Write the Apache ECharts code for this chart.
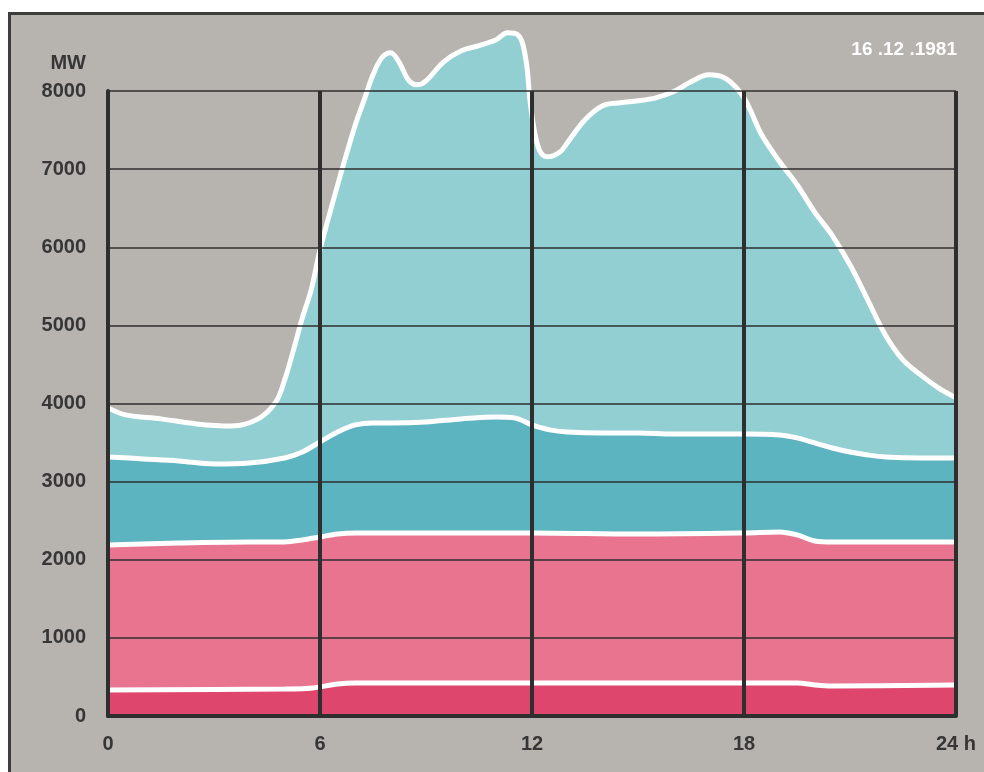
<!DOCTYPE html>
<html>
<head>
<meta charset="utf-8">
<script src="https://cdn.jsdelivr.net/npm/echarts@6/dist/echarts.min.js"></script>
<style>
html,body{margin:0;padding:0;background:#fff;}
#c{width:984px;height:772px;}
</style>
</head>
<body>
<div id="c"></div>
<script>
// Hours of day (x) and load in MW (y)
const totalHours = [0,0.5,1.5,2.5,3.5,4.25,4.75,5,5.25,5.5,5.75,6,6.5,7,7.25,7.5,7.75,8,8.25,8.5,8.75,9,9.5,10,10.5,11,11.3,11.5,11.7,11.85,11.95,12.1,12.25,12.45,12.8,13,13.5,14,14.5,15,15.5,16,16.5,17,17.5,18,18.5,19,19.5,20,20.5,21,21.5,22,22.5,23,23.5,24];
const totalMW    = [3944,3854,3803,3739,3713,3803,4020,4302,4686,5096,5454,5967,6799,7567,7887,8207,8425,8489,8361,8143,8079,8130,8374,8515,8580,8660,8745,8740,8650,8330,7849,7414,7209,7157,7222,7337,7631,7810,7849,7874,7913,7990,8118,8207,8156,7913,7439,7100,6800,6450,6150,5775,5327,4878,4558,4366,4200,4072];

const midHours = [0,1,2,3,4,5,5.5,6,6.5,7,7.5,8,9,10,11,11.5,12,12.5,13,14,15,16,17,18,19,19.5,20,20.5,21,21.5,22,23,24];
const midMW    = [3316,3291,3265,3227,3239,3303,3380,3508,3636,3726,3752,3752,3764,3803,3828,3816,3726,3662,3636,3624,3624,3611,3611,3611,3598,3560,3495,3431,3380,3342,3316,3303,3303];

const pinkHours = [0,2,4,5,5.5,6,6.5,7,12,15,18,19,19.5,20,20.5,24];
const pinkMW    = [2189,2215,2228,2228,2254,2292,2330,2343,2343,2330,2343,2356,2318,2241,2228,2228];

const baseHours = [0,5,5.8,6.5,7,12,18,19.5,20,20.5,24];
const baseMW    = [333,346,359,410,423,423,423,423,397,384,397];

const xTicks = [0,6,12,18,24];
const yTicks = [0,1000,2000,3000,4000,5000,6000,7000,8000];
const dateText = '16 .12 .1981';

function pairs(h, v){ return h.map((x,i)=>[x, v[i]]); }

const chart = echarts.init(document.getElementById('c'), null, {renderer:'canvas'});
const font = '"Liberation Sans", Arial, sans-serif';
const txt = '#363636';

function areaSeries(name, h, v, color, z){
  return {
    name: name, type:'line', data: pairs(h, v), smooth: 0.35,
    symbol:'none', clip:false, z: z,
    lineStyle:{color:'#ffffff', width:5},
    areaStyle:{color: color, opacity:1, origin:'start'}
  };
}

chart.setOption({
  backgroundColor:'#ffffff',
  animation:false,
  graphic:[
    {type:'rect', z:-10, silent:true,
     shape:{x:9.5, y:13.5, width:1000, height:800},
     style:{fill:'#b7b3af', stroke:'#3d3d3d', lineWidth:3}},
    {type:'text', z:50, right:27, top:40,
     style:{text: dateText, fill:'#ffffff', font:'bold 19px ' + font}}
  ],
  grid:{left:108, right:28, top:91, bottom:56, show:false},
  xAxis:{
    type:'value', min:0, max:24, interval:6, z:20,
    axisLine:{show:true, onZero:false, lineStyle:{color:'#2e2e2e', width:4}},
    axisTick:{show:false},
    splitLine:{show:true, lineStyle:{color:'#2e2e2e', width:4}},
    axisLabel:{color:txt, fontFamily:font, fontWeight:'bold', fontSize:20, margin:18,
      showMinLabel:true, showMaxLabel:true,
      formatter: v => (v === 24 ? '24 h' : String(v))}
  },
  yAxis:{
    type:'value', min:0, max:8000, interval:1000, z:20,
    name:'MW', nameLocation:'end', nameGap:18,
    nameTextStyle:{color:txt, fontFamily:font, fontWeight:'bold', fontSize:20, align:'right', padding:[0,22,0,0]},
    axisLine:{show:true, lineStyle:{color:'#2e2e2e', width:4}},
    axisTick:{show:false},
    splitLine:{show:true, lineStyle:{color:'#2e2e2e', width:1.5}},
    axisLabel:{color:txt, fontFamily:font, fontWeight:'bold', fontSize:20, margin:22,
      showMinLabel:true, showMaxLabel:true,
      formatter: v => String(v)}
  },
  series:[
    areaSeries('total', totalHours, totalMW, '#92cfd2', 2),
    areaSeries('mid', midHours, midMW, '#5db4c1', 3),
    areaSeries('pink', pinkHours, pinkMW, '#e9748f', 4),
    areaSeries('base', baseHours, baseMW, '#de466e', 5)
  ]
});
</script>
</body>
</html>
